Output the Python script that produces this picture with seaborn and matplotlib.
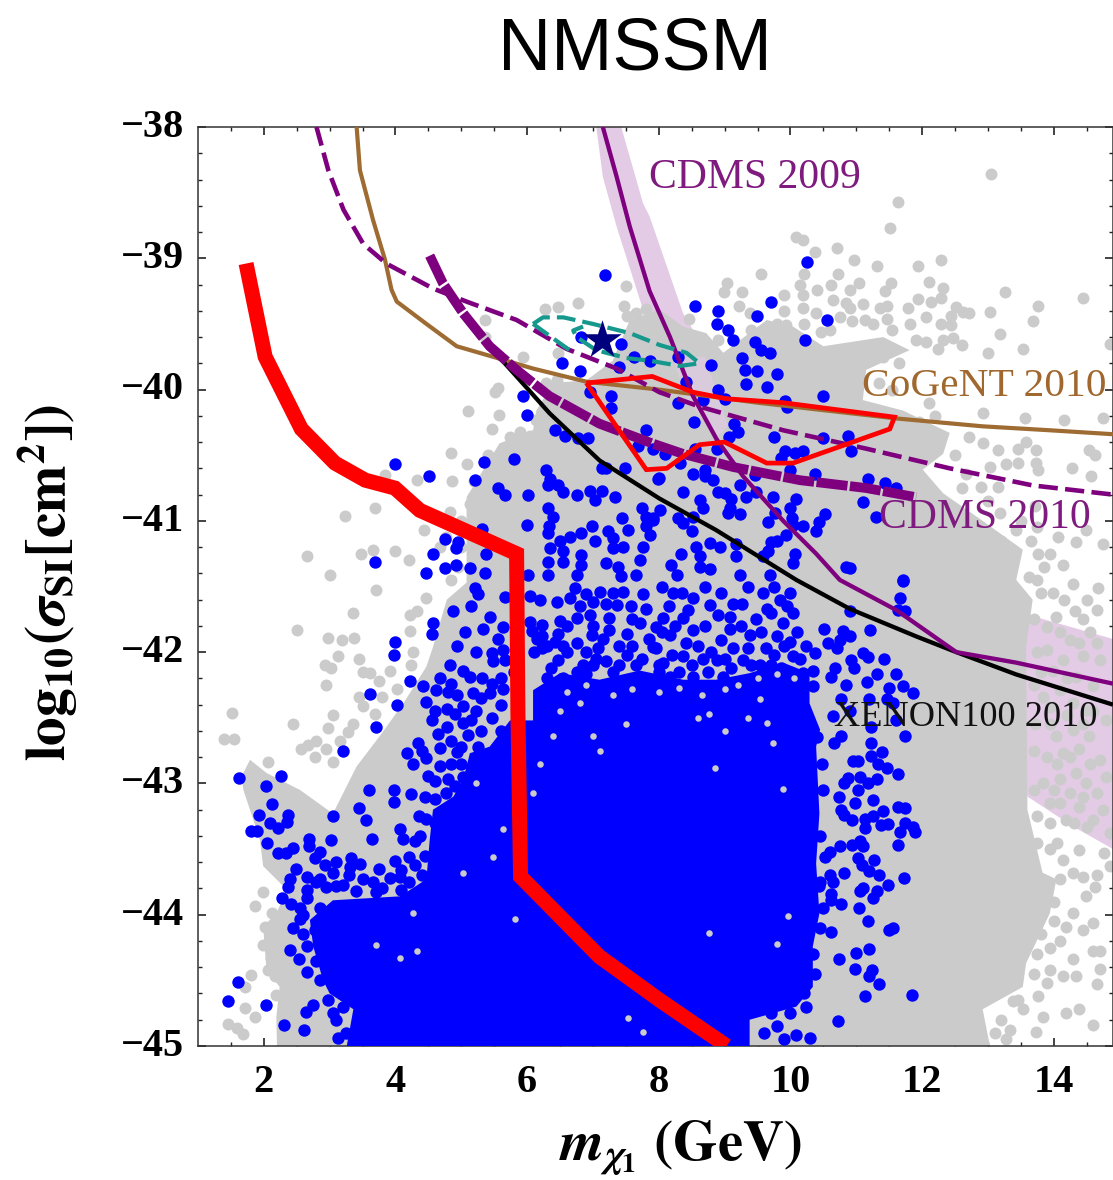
import matplotlib
matplotlib.use("Agg")
import matplotlib.pyplot as plt
from matplotlib.transforms import ScaledTranslation
import seaborn as sns

sns.set_theme(style="ticks")
plt.rcParams['font.family'] = ['Liberation Serif', 'DejaVu Sans']
plt.rcParams['mathtext.fontset'] = 'stix'

x_ticks = [2, 4, 6, 8, 10, 12, 14]
y_ticks = [-45, -44, -43, -42, -41, -40, -39, -38]

cogent = [(3.41,-38.0),(3.46,-38.33),(3.66,-38.71),(3.84,-39.01),(3.94,-39.24),(4.02,-39.33),(4.47,-39.50),(4.93,-39.67),(5.48,-39.75),(6.09,-39.84),(6.90,-39.94),(8.0,-40.0),(9.5,-40.1),(11.61,-40.22),(12.92,-40.28),(13.94,-40.31),(14.9,-40.34)]
dashed_limit = [(2.80,-38.0),(2.98,-38.33),(3.21,-38.63),(3.51,-38.89),(3.86,-39.04),(4.57,-39.23),(5.08,-39.33),(5.84,-39.47),(6.60,-39.69),(7.36,-39.84),(8.01,-40.02),(8.62,-40.13),(9.89,-40.31),(11.15,-40.45),(12.42,-40.60),(13.68,-40.73),(14.9,-40.80)]
cdms2010 = [(4.52,-38.98),(4.72,-39.19),(5.03,-39.42),(5.43,-39.67),(5.84,-39.85),(6.34,-40.05),(7.10,-40.26),(7.9,-40.41),(8.37,-40.49),(9.13,-40.59),(10.14,-40.69),(11.15,-40.75),(11.91,-40.82)]
xenon = [(5.48,-39.70),(5.84,-39.90),(6.34,-40.18),(7.10,-40.54),(8.01,-40.83),(8.87,-41.07),(10.09,-41.45),(10.90,-41.67),(11.91,-41.88),(12.52,-42.0),(13.43,-42.17),(14.9,-42.40)]
cdms2009 = [(7.15,-38.0),(7.36,-38.38),(7.56,-38.76),(7.86,-39.25),(8.17,-39.60),(8.52,-40.05),(8.88,-40.38),(9.28,-40.66),(9.89,-41.0),(10.39,-41.25),(10.75,-41.45),(11.61,-41.68),(12.52,-42.0),(13.43,-42.08),(14.9,-42.24)]
red_limit = [(1.73,-39.04),(2.02,-39.75),(2.57,-40.30),(3.08,-40.56),(3.54,-40.69),(3.99,-40.75),(4.37,-40.92),(5.84,-41.25),(5.86,-42.47),(5.90,-43.71),(7.10,-44.32),(8.01,-44.65),(9.03,-45.0)]
red_region = [(6.90,-39.95),(7.9,-39.90),(8.52,-40.02),(9.03,-40.07),(9.89,-40.10),(11.58,-40.21),(11.51,-40.30),(10.04,-40.56),(9.64,-40.56),(9.00,-40.40),(8.62,-40.42),(8.12,-40.60),(7.81,-40.61),(6.90,-39.95)]
teal_top = [(6.09,-39.50),(6.24,-39.45),(6.55,-39.45),(7.0,-39.50),(7.56,-39.57),(8.01,-39.66),(8.42,-39.72),(8.62,-39.80),(8.32,-39.82),(7.86,-39.78),(7.51,-39.76),(7.05,-39.70),(6.75,-39.60),(6.70,-39.55),(6.85,-39.52)]
teal_low = [(6.09,-39.50),(6.45,-39.63),(6.7,-39.72)]
star = [(7.14,-39.62)]
band = [(7.05,-38),(7.15,-38.38),(7.36,-38.76),(7.76,-39.39),(8.01,-39.77),(8.5,-40.2),(9.0,-40.6),(13.5,-42.8),(13.6,-43.1),(14.3,-43.33),(14.9,-43.5),(14.9,-41.9),(13.5,-41.7),(12,-41.4),(9.03,-40.28),(8.67,-39.67),(8.37,-39.42),(7.86,-38.68),(7.76,-38.58),(7.43,-38)]
band_over = [(8.2,-39.75),(8.7,-39.75),(9.05,-40.28),(8.9,-40.35),(8.45,-40.1)]

gray_region = [(2.2,-45),(2.19,-44.78),(2.24,-44.55),(2.04,-44.42),(1.99,-44.09),(2.19,-43.99),(2.35,-43.81),(1.99,-43.63),(1.94,-43.43),(1.69,-43.05),(1.66,-42.95),(1.79,-42.82),(2.04,-42.92),(2.55,-43.05),(3.05,-43.23),(3.21,-43.07),(3.41,-42.87),(3.76,-42.64),(4.12,-42.39),(4.47,-42.11),(4.57,-41.96),(4.78,-41.6),(5.08,-41.47),(5.08,-40.82),(5.58,-40.41),(6.09,-40.31),(6.14,-40.16),(6.39,-39.95),(6.9,-39.93),(7.3,-39.78),(7.56,-39.47),(8.01,-39.39),(8.37,-39.52),(8.72,-39.57),(8.98,-39.72),(9.64,-39.47),(10.04,-39.52),(10.5,-39.67),(11.41,-39.6),(11.81,-39.70),(11.15,-39.85),(11.1,-40.08),(11.71,-40.16),(12.42,-40.33),(12.32,-40.49),(12.01,-40.61),(12.32,-40.79),(12.92,-41.0),(13.53,-41.22),(13.43,-41.45),(13.68,-41.6),(13.58,-41.96),(13.6,-43.2),(13.83,-43.68),(14.04,-43.73),(13.94,-43.99),(13.58,-44.37),(13.53,-44.55),(12.92,-44.72),(13.03,-45)]
blue_region = [(3.26,-45),(3.36,-44.72),(3.0,-44.6),(2.9,-44.5),(2.75,-44.24),(2.7,-44.04),(3.05,-43.89),(4.07,-43.86),(4.47,-43.73),(4.52,-43.43),(4.57,-43.2),(4.88,-43.10),(5.03,-42.97),(5.13,-42.77),(5.43,-42.72),(5.74,-42.52),(6.09,-42.52),(6.09,-42.29),(6.5,-42.16),(7.1,-42.21),(7.71,-42.14),(8.37,-42.21),(8.87,-42.21),(9.38,-42.16),(9.89,-42.08),(10.29,-42.16),(10.29,-42.39),(10.45,-42.59),(10.39,-42.72),(10.44,-43.23),(10.39,-43.61),(10.44,-43.99),(10.34,-44.24),(10.34,-44.55),(10.09,-44.7),(9.38,-44.8),(9.38,-45)]

gray_pts = [(7.50,-39.21),(6.77,-39.34),(6.47,-39.37),(6.27,-39.39),(7.47,-39.36),(5.36,-39.47),(5.94,-39.75),(5.36,-39.60),(5.56,-39.99),(5.51,-40.02),(5.10,-40.16),(5.58,-40.19),(5.47,-40.30),(4.85,-40.48),(5.08,-40.57),(4.33,-40.69),(4.86,-40.70),(3.84,-40.65),(3.69,-40.90),(3.23,-40.96),(4.83,-40.93),(4.43,-41.07),(3.66,-41.22),(3.48,-41.25),(3.99,-41.23),(4.21,-41.30),(2.66,-41.27),(3.01,-41.41),(4.67,-41.20),(4.77,-41.12),(5.18,-40.82),(5.13,-40.87),(5.28,-40.97),(5.74,-40.36),(5.89,-40.32),(6.04,-40.35),(6.14,-40.23),(6.24,-40.18),(6.45,-39.93),(6.29,-39.95),(6.70,-39.98),(6.47,-39.72),(7.51,-39.44),(7.66,-39.42),(7.81,-39.39),
(13.04,-38.36),(11.63,-38.57),(11.51,-38.77),(10.08,-38.84),(10.19,-38.86),(10.70,-38.92),(10.37,-38.95),(10.96,-39.01),(11.31,-39.06),(11.94,-39.06),(12.29,-39.01),(10.21,-39.12),(9.55,-39.12),(10.72,-39.12),(9.03,-39.19),(10.62,-39.20),(11.04,-39.19),(11.53,-39.19),(12.11,-39.18),(10.14,-39.20),(8.99,-39.26),(9.27,-39.26),(9.90,-39.28),(10.41,-39.24),(10.90,-39.24),(11.43,-39.25),(12.32,-39.23),(13.26,-39.26),(14.44,-39.30),(10.19,-39.28),(10.65,-39.32),(10.85,-39.34),(11.94,-39.31),(12.14,-39.33),(12.29,-39.30),(13.76,-39.36),(9.22,-39.36),(10.19,-39.38),(11.79,-39.38),(10.90,-39.38),(11.36,-39.38),(11.46,-39.36),(12.52,-39.37),(13.03,-39.41),(12.72,-39.42),(12.62,-39.41),(10.39,-39.42),(9.38,-39.42),(8.46,-39.46),(12.06,-39.45),(11.46,-39.46),(12.44,-39.44),(13.68,-39.48),(10.93,-39.48),(11.14,-39.47),(11.81,-39.50),(12.29,-39.50),(12.44,-39.51),(9.79,-39.50),(9.94,-39.51),(10.46,-39.56),(13.19,-39.58),(11.91,-39.62),(12.06,-39.64),(12.32,-39.62),(12.47,-39.61),(12.60,-39.66),(12.24,-39.69),(13.53,-39.69),(13.0,-39.72),(14.85,-39.65),(13.56,-40.22),(14.16,-40.23),(14.75,-40.22),(13.58,-40.40),(13.46,-40.45),(13.73,-40.46),(13.28,-40.57),(13.46,-40.56),(13.73,-40.56),(13.76,-40.61),(14.27,-40.60),(14.54,-40.46),(14.62,-40.50),(14.57,-40.66),(13.15,-40.74),(13.71,-40.89),(14.14,-41.34),(14.75,-41.18),(14.06,-41.12),(14.34,-41.16),(14.49,-41.07),(13.63,-41.43),(13.76,-41.25),(12.92,-40.18),(12.72,-40.36),(12.92,-40.41),(13.15,-40.46),(13.03,-40.59),(12.67,-40.64),(12.9,-40.74),(13.18,-40.94),(13.43,-41.07),
(3.70,-41.53),(3.36,-41.70),(2.51,-41.83),(2.98,-41.89),(3.19,-41.91),(3.37,-41.89),(4.47,-41.59),(4.32,-41.69),(4.22,-41.72),(4.22,-41.84),(4.27,-42.0),(3.13,-42.03),(3.44,-42.05),(2.93,-42.10),(3.02,-42.12),(3.51,-42.15),(3.61,-42.16),(3.91,-42.14),(4.24,-42.10),(2.95,-42.25),(3.75,-42.22),(4.02,-42.28),(3.45,-42.34),(3.51,-42.41),(3.79,-42.34),(1.52,-42.46),(3.05,-42.48),(2.45,-42.55),(2.98,-42.58),(3.35,-42.55),(3.28,-42.61),(3.69,-42.47),(4.12,-42.47),(4.12,-42.54),(4.32,-42.57),(1.39,-42.66),(1.54,-42.66),(2.80,-42.68),(2.67,-42.71),(2.57,-42.74),(2.95,-42.74),(3.16,-42.68),(2.78,-42.80),(3.05,-42.84),(2.07,-42.84),
(1.99,-43.83),(1.87,-43.93),(1.81,-44.46),(1.71,-44.55),(1.72,-44.71),(1.87,-44.78),(1.46,-44.83),(1.59,-44.86),(1.69,-44.91),(2.07,-44.42),(2.17,-44.47),(2.19,-44.61),(2.11,-44.33),(1.99,-44.23),(2.02,-44.09),(2.12,-43.99),
(13.99,-41.55),(14.29,-41.48),(14.67,-41.51),(14.32,-41.69),(14.44,-41.75),(14.65,-41.68),(14.04,-41.73),(13.89,-41.81),(14.24,-41.91),(14.39,-41.93),(14.65,-41.93),(14.44,-42.03),(14.70,-42.06),(14.14,-42.06),(13.89,-41.98),(13.99,-42.14),(14.34,-42.19),(14.60,-42.26),(14.09,-42.29),(14.29,-42.39),(13.84,-42.34),(14.49,-42.44),(14.80,-42.52),(14.29,-42.59),(14.04,-42.64),(14.54,-42.64),(14.39,-42.74),(14.14,-42.77),(13.89,-42.80),(14.70,-42.82),(14.34,-42.92),(14.09,-42.97),(14.49,-43.0),(13.84,-43.0),(14.24,-43.07),(14.65,-43.07),(13.94,-43.15),(14.39,-43.18),(14.19,-43.28),(14.60,-43.28),(13.94,-43.30),(14.85,-43.38),
(14.14,-43.58),(14.39,-43.51),(14.77,-43.53),(14.85,-43.63),(14.65,-43.70),(14.44,-43.71),(14.62,-43.79),(14.49,-43.86),(14.29,-43.68),(14.09,-43.73),(14.29,-43.99),(14.60,-44.06),(14.44,-44.12),(14.19,-44.09),(14.70,-44.28),(14.60,-44.28),(14.29,-44.34),(14.14,-44.47),(14.70,-44.41),(14.65,-44.53),(14.34,-44.47),(13.94,-44.42),(13.89,-44.52),(13.76,-44.62),(14.19,-44.75),(14.39,-44.72),(14.60,-44.84),(13.84,-44.78),(13.53,-44.72),(13.73,-44.89),(13.33,-44.88),(13.38,-44.66),(13.28,-44.95),
(13.7,-41.75),(13.75,-42.0),(13.7,-42.25),(13.95,-42.42),(13.72,-42.55),(13.95,-42.55),(13.7,-42.75),(14.2,-42.48),(14.45,-42.55),(14.05,-42.85),(14.25,-42.8),(14.55,-42.85),(13.7,-43.05),(14.0,-43.05),(14.45,-43.1),(14.1,-43.15),(13.75,-43.25),(14.3,-43.3),(14.5,-43.33),(14.75,-43.2),(14.8,-42.95),(14.6,-42.45),(14.1,-41.85),(13.8,-41.55),(14.15,-41.6),(14.5,-41.6),(14.55,-41.85),(14.2,-42.2),(13.75,-43.45),(13.95,-43.5),(14.05,-43.45),(13.8,-42.15),
(9.9,-39.4),(10.2,-39.5),(10.75,-39.45),(11.1,-39.35),(11.25,-39.5),(11.55,-39.55),(10.6,-39.55),(9.4,-39.55),(8.9,-39.62),(11.4,-39.75),(11.65,-39.8),(11.35,-39.95),(11.55,-40.0),(12.1,-40.1),(11.95,-40.25),(12.2,-40.2),(12.5,-40.5),(12.6,-40.75),(12.45,-40.9),(13.0,-40.85),(13.2,-41.15),(13.5,-41.0),(13.75,-41.05),(13.65,-41.15),(13.85,-41.35),(13.95,-41.25),(13.75,-41.45),
(14.0,-43.9),(13.8,-44.15),(13.75,-44.3),(13.7,-44.45),(13.45,-44.65),(13.2,-44.8),(13.1,-44.9),(14.0,-44.05),(14.1,-44.2),(13.95,-44.25),
(5.0,-41.2),(4.95,-41.35),(4.85,-41.45),(5.0,-41.0),(5.2,-40.7),(5.4,-40.5)]

blue_pts = [(7.19,-39.13),(6.82,-39.60),(7.43,-39.65),(6.53,-39.80),(6.80,-39.86),(7.63,-39.75),(7.86,-39.78),(7.40,-39.83),(5.94,-40.05),(6.95,-40.02),(7.28,-40.05),(7.28,-40.14),(6.0,-40.19),(6.43,-40.31),(6.57,-40.35),(6.77,-40.37),(6.93,-40.37),(7.80,-40.31),(7.68,-40.43),(7.91,-40.45),(5.80,-40.53),(5.35,-40.55),(4.0,-40.57),(4.51,-40.66),(5.21,-40.69),(6.29,-40.61),(6.34,-40.68),(6.32,-40.73),(6.47,-40.73),(6.55,-40.78),(7.13,-40.60),(7.2,-40.60),(7.48,-40.60),(7.99,-40.68),(5.56,-40.75),(5.66,-40.80),(6.01,-40.80),(6.75,-40.80),(6.95,-40.77),(7.13,-40.77),(7.03,-40.84),(7.33,-40.82),(6.31,-40.90),(6.39,-40.97),(7.44,-40.98),(7.74,-40.90),(7.81,-40.97),(7.91,-40.99),(6.0,-41.03),(6.33,-41.04),(6.98,-41.04),(6.32,-41.09),(7.23,-41.08),(7.53,-41.07),(7.81,-41.04),(4.75,-41.14),(4.95,-41.16),(4.92,-41.21),(5.31,-41.06),(4.57,-41.25),(5.37,-41.25),(3.69,-41.31),(6.50,-41.15),(6.65,-41.12),(6.82,-41.09),(7.03,-41.15),(7.30,-41.13),(6.34,-41.21),(6.55,-41.23),(6.82,-41.26),(7.30,-41.21),(7.46,-41.20),(7.76,-41.20),(7.86,-41.11),(6.32,-41.31),(6.55,-41.31),(6.82,-41.34),(7.2,-41.32),(7.38,-41.35),(7.71,-41.30),(4.75,-41.36),(4.92,-41.34),(5.13,-41.36),(5.36,-41.40),(4.47,-41.40),(6.01,-41.41),(6.32,-41.41),(6.75,-41.41),(7.43,-41.42),(7.66,-41.41),
(10.25,-39.03),(8.55,-39.36),(8.90,-39.40),(9.70,-39.33),(9.49,-39.44),(10.56,-39.47),(8.88,-39.50),(9.05,-39.55),(9.13,-39.62),(10.22,-39.62),(9.46,-39.64),(9.56,-39.70),(9.69,-39.72),(9.26,-39.76),(8.29,-39.75),(8.79,-39.81),(9.31,-39.85),(9.49,-39.86),(9.79,-39.88),(9.32,-39.96),(9.65,-39.98),(8.42,-39.94),(8.90,-40.0),(10.49,-40.05),(9.0,-40.07),(8.67,-40.08),(8.29,-40.10),(9.91,-40.09),(9.95,-40.13),(8.53,-40.25),(9.15,-40.26),(9.21,-40.32),(9.07,-40.36),(9.75,-40.36),(10.88,-40.35),(10.50,-40.37),(10.92,-40.47),(9.91,-40.47),(10.19,-40.47),(10.07,-40.48),(9.86,-40.52),(8.88,-40.45),(8.55,-40.45),(8.09,-40.49),(8.32,-40.56),(9.99,-40.61),(10.37,-40.64),(11.18,-40.68),(8.52,-40.64),(8.70,-40.61),(8.70,-40.66),(8.83,-40.69),(8.01,-40.67),(9.46,-40.65),(9.23,-40.73),(11.43,-40.71),(11.61,-40.75),(8.37,-40.78),(8.90,-40.78),(9.0,-40.79),(9.48,-40.78),(9.32,-40.82),(9.73,-40.82),(10.08,-40.83),(8.62,-40.84),(9.10,-40.83),(11.10,-40.86),(8.67,-40.90),(9.08,-40.90),(9.99,-40.90),(9.05,-40.94),(9.23,-40.95),(9.76,-40.94),(10.02,-40.98),(10.52,-40.95),(11.30,-40.97),(8.02,-40.92),(8.29,-40.98),(8.52,-40.97),(9.66,-41.01),(10.04,-41.03),(10.19,-41.04),(10.44,-41.01),(10.39,-41.08),(8.37,-41.02),(8.50,-41.08),(7.91,-40.98),(9.94,-41.11),(9.71,-41.16),(9.79,-41.15),(8.57,-41.20),(8.78,-41.17),(8.93,-41.20),(9.18,-41.18),(9.66,-41.23),(8.34,-41.25),(8.62,-41.27),(9.18,-41.27),(10.07,-41.25),(10.04,-41.32),(9.58,-41.27),(10.85,-41.35),(10.90,-41.36),(8.19,-41.34),(8.62,-41.35),(8.78,-41.37),(11.71,-41.45),(8.27,-41.41),(9.23,-41.41),(9.69,-41.41),
(5.21,-41.51),(5.26,-41.56),(5.66,-41.58),(6.04,-41.57),(6.72,-41.51),(6.65,-41.59),(6.90,-41.56),(7.10,-41.54),(7.46,-41.54),(7.76,-41.56),(7.2,-41.63),(7.36,-41.64),(7.58,-41.65),(7.81,-41.67),(5.15,-41.65),(4.88,-41.69),(6.95,-41.72),(6.75,-41.74),(6.50,-41.76),(6.04,-41.77),(6.22,-41.79),(5.43,-41.73),(4.57,-41.78),(4.56,-41.86),(5.33,-41.82),(5.63,-41.81),(7.25,-41.74),(7.71,-41.78),(7.96,-41.81),(6.07,-41.84),(6.47,-41.86),(6.98,-41.87),(7.25,-41.83),(7.51,-41.86),(6.22,-41.88),(6.42,-41.92),(4.0,-41.92),(4.93,-41.95),(6.75,-41.93),(6.22,-41.97),(5.63,-41.98),(5.23,-42.0),(5.46,-42.01),(3.98,-42.02),(6.60,-42.0),(7.08,-41.97),(7.51,-42.02),(7.91,-41.96),(5.48,-42.07),(5.66,-42.06),(6.47,-42.06),(6.85,-42.10),(7.2,-42.07),(4.83,-42.10),(6.37,-42.12),(5.03,-42.14),(5.13,-42.19),(5.31,-42.20),(4.67,-42.20),(6.90,-42.17),(7.30,-42.15),(4.22,-42.22),(5.46,-42.24),(4.85,-42.24),(4.42,-42.26),(5.64,-42.28),(4.62,-42.29),(4.80,-42.30),(5.18,-42.31),(3.61,-42.32),(5.43,-42.31),(4.93,-42.33),(4.03,-42.40),(4.47,-42.38),(5.03,-42.41),(4.78,-42.43),(5.23,-42.45),(4.60,-42.45),(5.46,-42.50),(4.55,-42.52),(5.03,-42.54),(3.70,-42.57),(4.78,-42.57),(4.65,-42.62),(5.10,-42.63),(4.34,-42.69),(4.67,-42.73),(3.21,-42.75),(4.17,-42.77),(4.93,-42.76),(4.47,-42.81),(4.27,-42.85),(4.67,-42.87),(4.50,-42.94),(4.80,-42.97),(5.03,-42.95),(2.26,-42.94),(1.62,-42.96),(2.04,-43.02),(3.60,-43.05),(3.97,-43.05),(4.23,-43.08),(4.76,-43.07),(3.97,-43.14),(2.13,-43.16),(3.45,-43.19),(2.37,-43.24),(1.92,-43.24),(3.05,-43.25),(4.47,-43.27),(3.55,-43.28),(2.35,-43.29),(2.09,-43.30),(2.22,-43.34),(4.07,-43.35),(1.89,-43.36),(1.81,-43.36),(4.11,-43.42),(3.64,-43.42),(3.02,-43.43),(2.68,-43.42),(4.29,-43.44),(2.05,-43.45),(2.68,-43.48),(2.45,-43.49),(2.22,-43.53),(2.34,-43.53),(2.85,-43.52),(2.78,-43.57),(4.21,-43.56),(3.32,-43.57),(3.46,-43.61),(3.99,-43.59),(3.10,-43.60),(2.93,-43.62),(3.31,-43.64),(3.75,-43.65),(2.49,-43.65),(4.09,-43.66),(3.05,-43.68),(2.65,-43.71),(2.85,-43.73),(2.40,-43.73),(3.91,-43.72),(3.51,-43.73),(3.66,-43.75),(4.07,-43.71),(2.37,-43.79),(2.65,-43.81),(2.95,-43.79),(3.21,-43.77),(2.28,-43.87),(2.65,-43.87),(4.09,-43.81),(4.40,-43.82),(2.41,-43.92),(2.55,-44.03),(2.78,-44.12),(2.39,-44.27),(2.66,-44.24),(2.94,-44.27),(2.54,-44.34),(2.66,-44.44),(1.61,-44.51),(1.46,-44.66),(2.04,-44.69),(2.74,-44.69),(2.64,-44.74),(2.30,-44.84),(2.61,-44.88),(3.12,-44.94),
(11.71,-41.46),(11.67,-41.59),(11.63,-41.68),(11.74,-41.69),(10.90,-41.69),(11.21,-41.83),(10.51,-41.82),(10.80,-41.84),(10.90,-41.88),(10.75,-41.91),(10.57,-41.93),(10.70,-41.97),(10.24,-41.95),(10.37,-42.01),(11.10,-42.01),(11.18,-42.04),(11.42,-42.05),(10.92,-42.06),(10.96,-42.12),(10.67,-42.12),(10.62,-42.19),(11.32,-42.17),(11.61,-42.17),(11.16,-42.23),(10.85,-42.25),(11.49,-42.27),(11.71,-42.26),(11.86,-42.31),(10.77,-42.36),(11.19,-42.36),(11.46,-42.36),(11.56,-42.39),(10.65,-42.49),(10.90,-42.45),(11.23,-42.57),(11.61,-42.52),(11.74,-42.64),(10.77,-42.64),(10.66,-42.69),(11.23,-42.69),(11.39,-42.76),(11.23,-42.79),(10.95,-42.83),(11.03,-42.83),(11.33,-42.85),(11.47,-42.88),(11.63,-42.93),(11.05,-42.95),(10.88,-42.96),(11.32,-42.97),(10.82,-43.0),(11.18,-43.0),(11.03,-43.05),(10.74,-43.10),(11.25,-43.13),(10.98,-43.15),(10.77,-43.20),(11.63,-43.18),(11.74,-43.19),(11.41,-43.21),(10.82,-43.24),(10.93,-43.28),(11.25,-43.25),(11.13,-43.27),(11.74,-43.30),(11.89,-43.37),(11.86,-43.33),(11.66,-43.37),(11.38,-43.32),(11.48,-43.31),(11.14,-43.34),(11.63,-43.47),(11.05,-43.44),(10.93,-43.47),(10.75,-43.48),(11.10,-43.48),(10.60,-43.52),(10.52,-43.56),(11.03,-43.57),(11.27,-43.58),(11.08,-43.62),(11.20,-43.67),(10.81,-43.68),(10.60,-43.70),(11.34,-43.70),(10.65,-43.75),(11.72,-43.72),(11.48,-43.77),(10.44,-43.78),(11.10,-43.80),(11.05,-43.82),(11.31,-43.82),(10.62,-43.84),(11.25,-43.87),(10.62,-43.89),(10.77,-43.92),(11.04,-43.95),(11.18,-44.05),(11.56,-44.10),(11.49,-44.12),(10.61,-44.13),(11.20,-44.26),(11.00,-44.29),(10.74,-44.34),(10.98,-44.41),(11.24,-44.42),(11.19,-44.47),(11.35,-44.53),(11.84,-44.61),(11.13,-44.62),(10.24,-44.70),(10.72,-44.81),(10.08,-44.92),(10.29,-44.94),
(8.22,-41.55),(8.52,-41.59),(8.78,-41.64),(9.13,-41.63),(9.26,-41.63),(9.58,-41.55),(9.84,-41.60),(9.64,-41.67),(10.04,-41.70),(8.07,-41.74),(8.37,-41.74),(9.08,-41.73),(9.48,-41.75),(9.89,-41.78),(8.52,-41.83),(8.17,-41.87),(9.08,-41.82),(9.38,-41.87),(9.79,-41.88),(9.99,-41.92),(8.42,-41.93),(8.95,-41.91),(7.96,-41.97),(9.13,-41.97),(9.63,-41.97),(10.04,-42.03),(8.37,-42.03),(8.67,-42.05),(8.88,-42.06),(9.28,-42.06),(9.53,-42.10),(8.07,-42.08),(9.86,-42.12),(10.19,-42.16),(10.34,-42.14),(8.17,-42.19),(8.52,-42.19),(8.98,-42.19),(9.38,-42.21),(10.34,-42.26),(10.04,-42.26),(9.69,-42.26),
(5.3,-42.35),(5.6,-42.4),(5.15,-42.52),(4.9,-42.47),(5.3,-42.6),(5.6,-42.6),(4.85,-42.68),(5.0,-42.72),(5.25,-42.72),(4.4,-42.75),(4.85,-42.85),(5.0,-42.85),(4.6,-42.98),(4.9,-43.02),(4.45,-43.1),(4.6,-43.12),(4.35,-43.25),(4.6,-43.3),(4.38,-43.4),(4.45,-43.55),(4.3,-43.62),(4.4,-43.7),
(2.8,-43.75),(3.1,-43.78),(3.4,-43.82),(3.7,-43.83),(4.2,-43.75),(3.3,-43.7),(3.8,-43.8),(2.55,-43.95),(2.85,-43.95),(2.45,-44.1),(2.6,-44.15),(2.8,-44.35),(2.85,-44.5),(2.98,-44.65),(3.1,-44.8),(3.2,-44.7),(3.05,-44.75),(3.25,-44.9),(2.6,-44.0),
(6.1,-42.0),(6.3,-42.2),(6.55,-42.2),(6.75,-42.15),(7.0,-42.1),(7.4,-42.1),(7.6,-41.95),(7.75,-42.05),(7.4,-41.95),(7.05,-42.05),(6.6,-41.8),(6.15,-41.9),(6.3,-41.95),(6.8,-41.65),(7.0,-41.8),(7.15,-41.9),(7.6,-41.75),(7.85,-41.9),(8.0,-42.1),(7.65,-42.1),(6.9,-42.0),(6.55,-41.95),(7.3,-41.55),(7.0,-41.62),(6.45,-41.62),(6.2,-41.6),
(8.05,-41.5),(8.35,-41.55),(8.7,-41.5),(8.95,-41.55),(9.35,-41.5),(9.75,-41.5),(10.0,-41.55),(8.15,-41.65),(8.45,-41.68),(8.9,-41.72),(9.25,-41.8),(9.7,-41.7),(9.95,-41.65),(10.1,-41.85),(8.25,-41.8),(8.7,-41.8),(9.55,-41.85),(8.05,-41.85),(8.6,-41.95),(8.8,-42.0),(9.0,-42.05),(9.35,-41.97),(9.75,-42.02),(9.9,-41.95),(10.15,-42.05),(8.2,-42.02),(8.5,-42.1),(8.75,-42.15),(9.1,-42.12),(9.4,-42.1),(9.7,-42.1),(10.0,-42.15),(8.0,-42.15),(8.3,-42.15),
(5.55,-41.9),(5.05,-41.85),(5.8,-42.15),(5.6,-42.2),
(10.4,-42.65),(10.48,-42.85),(10.5,-43.05),(10.45,-43.4),(10.45,-43.75),(10.5,-43.95),(10.45,-44.1),(10.35,-44.3),(10.38,-44.45),(10.2,-44.6),(10.0,-44.75),(9.8,-44.85),(9.6,-44.9),(9.9,-44.95),(9.5,-44.7),(9.7,-44.75)]

blue_gaps = [(5.48,-43.56),(5.03,-43.68),(4.27,-43.99),(3.71,-44.23),(4.07,-44.33),(4.32,-44.28),(5.81,-44.03),(7.76,-44.89),(7.53,-44.79),(6.09,-43.07),(6.80,-42.39),(6.39,-42.64),(7.0,-42.64),(5.23,-43.0),(5.63,-43.35),(8.77,-42.47),(9.36,-42.50),(9.54,-42.36),(9.64,-42.54),(8.85,-42.88),(9.89,-43.04),(8.77,-44.14),(9.79,-44.22),(9.97,-44.01),(9.74,-42.69),
(6.6,-42.3),(6.9,-42.25),(7.3,-42.33),(7.6,-42.28),(8.0,-42.3),(8.3,-42.27),(8.65,-42.33),(9.0,-42.28),(9.2,-42.25),(9.5,-42.2),(9.8,-42.17),(10.05,-42.2),(8.6,-42.5),(9.0,-42.6),(7.5,-42.55),(6.5,-42.45),(7.1,-42.75),(6.2,-42.85)]

labels = ["CDMS 2009", "CoGeNT 2010", "CDMS 2010", "XENON100 2010"]
label_colors = ["#7f1a7f", "#a0682f", "#7f1a7f", "#111111"]
label_x = [9.46, 12.94, 12.95, 12.66]
label_y = [-38.39, -39.98, -40.98, -42.5]
label_size = [30, 29.8, 30, 26.2]

fig = plt.figure(figsize=(11.13, 11.80), dpi=100, facecolor="white")
ax = fig.add_axes([198/1113, (1180-1046)/1180, (1113-198)/1113, (1046-127)/1180])
ax.set_facecolor("white")

def xs(p): return [a for a, _ in p]
def ys(p): return [b for _, b in p]

ax.fill(xs(band), ys(band), color="#e3cbe6", lw=0, zorder=1)
ax.fill(xs(gray_region), ys(gray_region), color="#cbcbcb", lw=0, zorder=2)
sns.scatterplot(x=xs(gray_pts), y=ys(gray_pts), s=74, color="#cbcbcb", linewidth=0, zorder=2, ax=ax)
ax.fill(xs(band_over), ys(band_over), color="#e3cbe6", alpha=0.6, lw=0, zorder=2.5)
ax.fill(xs(blue_region), ys(blue_region), color="#0000ff", lw=0, zorder=3)
sns.scatterplot(x=xs(blue_pts), y=ys(blue_pts), s=80, color="#0000ff", linewidth=0, zorder=3, ax=ax)
sns.scatterplot(x=xs(blue_gaps), y=ys(blue_gaps), s=22, color="#cbcbcb", linewidth=0, zorder=3.1, ax=ax)

def curve(p, color, lw, z, dash=None, cap="butt"):
    sns.lineplot(x=xs(p), y=ys(p), sort=False, estimator=None, color=color, linewidth=lw, zorder=z, ax=ax)
    ln = ax.lines[-1]
    if dash:
        ln.set_dashes(dash)
    ln.set_dash_capstyle(cap)
    ln.set_solid_capstyle(cap)
    ln.set_solid_joinstyle("miter")

curve(cogent, "#9e6b32", 3.0, 4)
curve(xenon, "#000000", 3.1, 4.1)
curve(cdms2009, "#7f007f", 3.1, 4.2)
curve(dashed_limit, "#7f007f", 3.3, 4.3, dash=(4.2, 1.6))
curve(cdms2010, "#7f007f", 7.0, 4.4, dash=(3.2, 0.25))
curve(teal_top, "#16998c", 3.0, 4.5, dash=(4.5, 1.7))
curve(teal_low, "#16998c", 3.0, 4.5, dash=(4.5, 1.7))
curve(red_region, "#ff0000", 3.4, 5)
curve(red_limit, "#ff0000", 10.8, 5.5)
sns.scatterplot(x=xs(star), y=ys(star), marker="*", s=850, color="#00007f", linewidth=0, zorder=5.2, ax=ax)

for t, c, lx, ly, fs in zip(labels, label_colors, label_x, label_y, label_size):
    ax.text(lx, ly, t, color=c, fontsize=fs, family="Liberation Serif", zorder=6, va="center", ha="center")

ax.set_xlim(1.0, 14.9)
ax.set_ylim(-45, -38)
ax.set_xticks(x_ticks)
ax.set_yticks(y_ticks)
ax.set_xticks([v / 2 for v in range(3, 30)], minor=True)
ax.set_yticks([-45 + v * 0.2 for v in range(0, 36)], minor=True)
ax.tick_params(which="major", direction="in", length=6, width=1.2, top=True, right=True, color="#222222")
ax.tick_params(which="minor", direction="in", length=3.2, width=1.0, top=True, right=True, color="#222222")
ax.set_xticklabels([str(v) for v in x_ticks], fontsize=29, fontweight="bold", family="Liberation Serif", color="black")
ax.set_yticklabels(["\u2212" + str(abs(v)) for v in y_ticks], fontsize=29, fontweight="bold", family="Liberation Serif", color="black")
ax.tick_params(axis="x", which="major", pad=13)
ax.tick_params(axis="y", which="major", pad=10)
shift_up = ScaledTranslation(0, 3 / 72, fig.dpi_scale_trans)
for lab in ax.get_yticklabels():
    lab.set_transform(lab.get_transform() + shift_up)
ax.margins(0)
for s in ax.spines.values():
    s.set_linewidth(1.1)
    s.set_color("#333333")

fig.text(635/1113, 1 - 50/1180, "NMSSM", family="Liberation Sans", fontsize=53, ha="center", va="center", color="black")
fig.text(680/1113, 1 - 1148/1180, r"$\mathbfit{m}_{\mathbfit{\chi}_{\mathbf{1}}}\ \mathbf{(GeV)}$", fontsize=41, ha="center", va="center", color="black")
fig.text(48/1113, 1 - 582/1180, r"$\mathbf{log}_{\mathbf{10}}\mathbf{(}\mathbfit{\sigma}_{\mathbf{SI}}\mathbf{[cm}^{\mathbf{2}}\mathbf{])}$", fontsize=41, rotation=90, ha="center", va="center", color="black")

fig.savefig("out.png", dpi=100)
